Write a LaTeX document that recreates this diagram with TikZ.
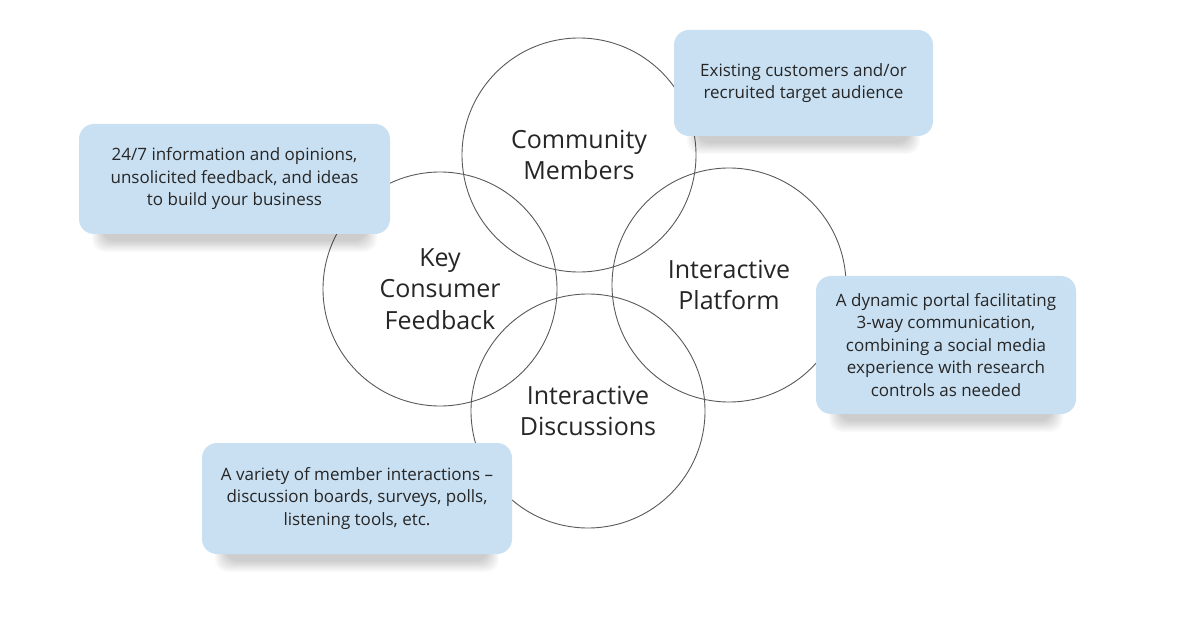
\documentclass[tikz,border=0pt]{standalone}
\usepackage{fontspec}
\setmainfont{Open Sans}
\usetikzlibrary{calc}
\definecolor{boxblue}{HTML}{C9E0F2}
\definecolor{txt}{HTML}{262626}
\definecolor{ring}{HTML}{5A5A5A}
\tikzset{
  ring/.style={circle, draw=ring, line width=0.9pt, minimum size=234pt, inner sep=0pt, align=center, text=txt, font=\fontsize{25}{31.5}\selectfont},
  callout/.style={rectangle, rounded corners=15pt, fill=boxblue, inner sep=0pt, align=center, text=txt, font=\fontsize{17}{22.5}\selectfont},
}
\newcommand{\softshadow}[1]{%
  \foreach \e in {0,1.2,...,10.8} {
    \fill[black, opacity=0.02, rounded corners=12pt]
      ($(#1.north west)+(24-\e,20-\e)$) rectangle ($(#1.south east)+(-24+\e,7+\e)$);
  }%
}
\begin{document}
\begin{tikzpicture}[x=1pt,y=-1pt]
\useasboundingbox (0,0) rectangle (1190,617);
\fill[white] (0,0) rectangle (1190,617);
% circles
\node[ring] (cm) at (579,155) {Community\\Members};
\node[ring] (kc) at (440,289) {Key\\Consumer\\Feedback};
\node[ring] (ip) at (729,285) {Interactive\\Platform};
\node[ring] (id) at (588,411) {Interactive\\Discussions};
% callouts
\coordinate (p1) at (803.5,83);
\coordinate (p2) at (234.5,179);
\coordinate (p3) at (946,345);
\coordinate (p4) at (357,498.5);
\path (p1) node[callout, minimum width=259pt, minimum height=106pt, opacity=0] (b1) {};
\path (p2) node[callout, minimum width=311pt, minimum height=110pt, opacity=0] (b2) {};
\path (p3) node[callout, minimum width=260pt, minimum height=138pt, opacity=0] (b3) {};
\path (p4) node[callout, minimum width=310pt, minimum height=111pt, opacity=0] (b4) {};
\softshadow{b1}
\softshadow{b2}
\softshadow{b3}
\softshadow{b4}
\node[callout, minimum width=259pt, minimum height=106pt] (c1) at (p1) {Existing customers and/or\\recruited target audience};
\node[callout, minimum width=311pt, minimum height=110pt] (c2) at (p2) {24/7 information and opinions,\\unsolicited feedback, and ideas\\to build your business};
\node[callout, minimum width=260pt, minimum height=138pt] (c3) at (p3) {A dynamic portal facilitating\\3-way communication,\\combining a social media\\experience with research\\controls as needed};
\node[callout, minimum width=310pt, minimum height=111pt] (c4) at (p4) {A variety of member interactions –\\discussion boards, surveys, polls,\\listening tools, etc.};
\end{tikzpicture}
\end{document}
